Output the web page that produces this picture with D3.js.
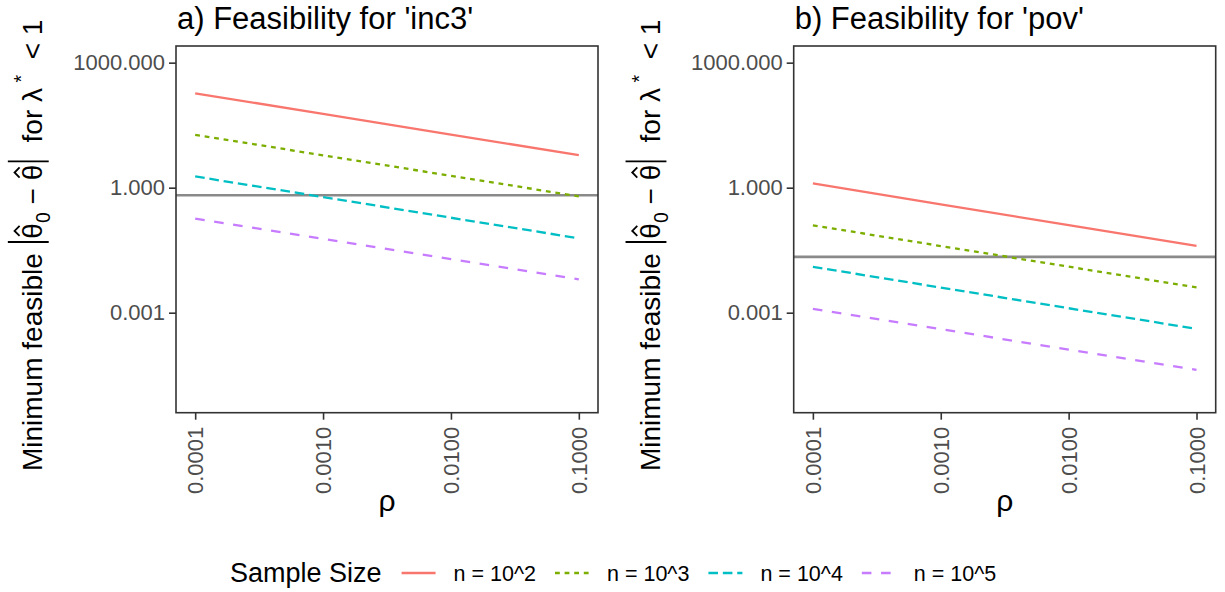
<!DOCTYPE html>
<html><head><meta charset="utf-8">
<script src="https://cdn.jsdelivr.net/npm/d3@7"></script>
<style>
body{margin:0;background:#fff}
svg{display:block}
text{font-family:"Liberation Sans",Arial,Helvetica,sans-serif}
</style>
</head><body>
<svg id="chart" width="1225" height="592"></svg>
<script>
// ---- data ----
const rho = [0.0001, 0.001, 0.01, 0.1];
const seriesNames = ["n = 10^2", "n = 10^3", "n = 10^4", "n = 10^5"];
const inc3_n1e2 = [184, 58.9, 18.8, 6.03];
const inc3_n1e3 = [18.6, 5.98, 1.93, 0.62];
const inc3_n1e4 = [1.86, 0.596, 0.19, 0.061];
const inc3_n1e5 = [0.181, 0.0592, 0.0193, 0.0063];
const pov_n1e2 = [1.27, 0.40, 0.126, 0.040];
const pov_n1e3 = [0.125, 0.0398, 0.0127, 0.00404];
const pov_n1e4 = [0.0126, 0.00401, 0.00128, 0.00041];
const pov_n1e5 = [0.00124, 0.000403, 0.00013, 0.0000423];
const hlineInc3 = 0.66;
const hlinePov = 0.0218;
const yTicks = [1000, 1, 0.001];
const yTickLabels = ["1000.000", "1.000", "0.001"];
const xTicks = [0.0001, 0.001, 0.01, 0.1];
const xTickLabels = ["0.0001", "0.0010", "0.0100", "0.1000"];
const panelTitles = ["a) Feasibility for 'inc3'", "b) Feasibility for 'pov'"];
const legendTitle = "Sample Size";

// ---- style ----
const colors = ["#F8766D", "#7CAE00", "#00BFC4", "#C77CFF"];
const u = 2.4;
const dashes = [null, `${2*u},${2*u}`, `${4*u},${2*u}`, `${4*u},${4*u}`];
const lineW = 2.3;

const svg = d3.select("#chart");
svg.append("rect").attr("width", 1225).attr("height", 592).attr("fill", "#fff");

const pw = 422, topY = 46, ph = 366.7;
const panels = [
  {left: 176, title: panelTitles[0], series: [inc3_n1e2, inc3_n1e3, inc3_n1e4, inc3_n1e5], hline: hlineInc3},
  {left: 793.7, title: panelTitles[1], series: [pov_n1e2, pov_n1e3, pov_n1e4, pov_n1e5], hline: hlinePov}
];

const x = d3.scaleLog().domain([Math.pow(10, -4.15), Math.pow(10, -0.85)]).range([0, pw]);
const y = d3.scaleLog().domain([Math.pow(10, -5.4), Math.pow(10, 3.4)]).range([ph, 0]);

const tickFont = 22, titleFont = 31, axisTitleFont = 28;

function yLabel(parent, cx, cy, f) {
  const outer = parent.append("g").attr("transform", `translate(${cx},${cy}) rotate(-90)`);
  const t = outer.append("g");
  let cur = 0;
  function txt(s, size, dy, fam) {
    const el = t.append("text").attr("x", cur).attr("y", dy).attr("font-size", size)
      .attr("fill", "#000").style("white-space", "pre").text(s);
    if (fam) el.attr("font-family", fam);
    const w = el.node().getComputedTextLength();
    const r = {x0: cur, w};
    cur += w;
    return r;
  }
  function bar() {
    cur += 0.12 * f;
    t.append("line").attr("x1", cur).attr("x2", cur).attr("y1", -1.22 * f).attr("y2", 0.24 * f)
      .attr("stroke", "#000").attr("stroke-width", 0.07 * f);
    cur += 0.12 * f;
  }
  function hat(r) {
    const c = r.x0 + r.w / 2;
    t.append("path").attr("d", `M${c - 0.18*f},${-0.8*f} L${c},${-0.98*f} L${c + 0.18*f},${-0.8*f}`)
      .attr("fill", "none").attr("stroke", "#000").attr("stroke-width", 0.065 * f);
  }
  const serif = "'Liberation Serif','DejaVu Serif',serif";
  txt("Minimum feasible ", f, 0);
  bar();
  const th1 = txt("θ", f, 0, serif);
  hat(th1);
  txt("0", 0.7 * f, 0.28 * f);
  txt(" − ", f, 0);
  const th2 = txt("θ", f, 0, serif);
  hat(th2);
  bar();
  txt("  for ", f, 0);
  txt("λ", f, 0, serif);
  txt(" *", 0.7 * f, -0.5 * f);
  txt("  < 1", f, 0);
  t.attr("transform", `translate(${-cur / 2},0)`);
}

panels.forEach((p, pi) => {
  const g = svg.append("g").attr("transform", `translate(${p.left},${topY})`);
  g.append("line").attr("x1", 0).attr("x2", pw).attr("y1", y(p.hline)).attr("y2", y(p.hline))
    .attr("stroke", "#8a8a8a").attr("stroke-width", 2.6);
  const line = d3.line().x((d, i) => x(rho[i])).y(d => y(d));
  p.series.forEach((s, si) => {
    const path = g.append("path").datum(s).attr("d", line).attr("fill", "none")
      .attr("stroke", colors[si]).attr("stroke-width", lineW).attr("stroke-linecap", "butt");
    if (dashes[si]) path.attr("stroke-dasharray", dashes[si]);
  });
  g.append("rect").attr("width", pw).attr("height", ph).attr("fill", "none")
    .attr("stroke", "#333").attr("stroke-width", 1.6);
  const ya = g.append("g").call(d3.axisLeft(y).tickValues(yTicks).tickFormat((d, i) => yTickLabels[i]).tickSize(7).tickPadding(4));
  ya.select(".domain").remove();
  ya.selectAll(".tick line").attr("stroke", "#333").attr("stroke-width", 1.6);
  ya.selectAll(".tick text").attr("fill", "#4d4d4d").attr("font-size", tickFont)
    .attr("font-family", "'Liberation Sans',Arial,sans-serif");
  const xa = g.append("g").attr("transform", `translate(0,${ph})`)
    .call(d3.axisBottom(x).tickValues(xTicks).tickFormat((d, i) => xTickLabels[i]).tickSize(7).tickPadding(4));
  xa.select(".domain").remove();
  xa.selectAll(".tick line").attr("stroke", "#333").attr("stroke-width", 1.6);
  xa.selectAll(".tick text").attr("fill", "#4d4d4d").attr("font-size", tickFont)
    .attr("font-family", "'Liberation Sans',Arial,sans-serif")
    .attr("transform", "rotate(-90)").attr("text-anchor", "end")
    .attr("x", -14).attr("y", 0).attr("dy", "0.35em");
  svg.append("text").attr("x", p.left + 1).attr("y", 29).attr("font-size", titleFont)
    .attr("fill", "#000").text(p.title);
  svg.append("text").attr("x", p.left + pw / 2).attr("y", 511).attr("text-anchor", "middle")
    .attr("font-size", 30).attr("font-family", "'Liberation Serif','DejaVu Serif',serif")
    .attr("fill", "#000").text("ρ");
  yLabel(svg, p.left - 134, topY + ph / 2 + 16, axisTitleFont);
});

// legend
const leg = svg.append("g");
let lx = 230;
const ly = 573;
const lt = leg.append("text").attr("x", lx).attr("y", ly + 9).attr("font-size", 27).attr("fill", "#000").text(legendTitle);
lx += lt.node().getComputedTextLength() + 20;
seriesNames.forEach((nm, i) => {
  const l = leg.append("line").attr("x1", lx).attr("x2", lx + 34).attr("y1", ly).attr("y2", ly)
    .attr("stroke", colors[i]).attr("stroke-width", lineW);
  if (dashes[i]) l.attr("stroke-dasharray", dashes[i]);
  lx += 34 + 18;
  const tt = leg.append("text").attr("x", lx).attr("y", ly + 8).attr("font-size", 21.5).attr("fill", "#000").text(nm);
  lx += tt.node().getComputedTextLength() + 19;
});
</script>
</body></html>
